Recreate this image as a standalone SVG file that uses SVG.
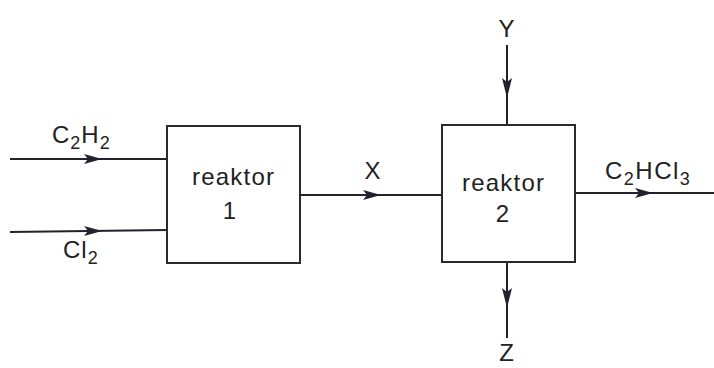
<svg xmlns="http://www.w3.org/2000/svg" width="714" height="368" viewBox="0 0 714 368">
<defs>
<style>
.box{fill:#fff;stroke:#2a2a33;stroke-width:2}
.ln{stroke:#22222e;stroke-width:2;fill:none}
.ah{fill:#22222e}
text{font-family:"Liberation Sans",Arial,sans-serif;font-size:24px;fill:#222;letter-spacing:1px}
.sub{font-size:18px}
</style>
</defs>
<rect width="714" height="368" fill="#fff"/>
<g id="connectors">
<line class="ln" x1="10" y1="159" x2="167" y2="159"/>
<polygon class="ah" points="102,159 84,154 88,159 84,164"/>
<line class="ln" x1="10" y1="232" x2="167" y2="230"/>
<polygon class="ah" points="102,231 84,226 88,231 84,236"/>
<line class="ln" x1="300" y1="195" x2="442" y2="195"/>
<polygon class="ah" points="381,195 363,190 367,195 363,200"/>
<line class="ln" x1="507" y1="45" x2="507" y2="125"/>
<polygon class="ah" points="507,98 502,78 507,82 512,78"/>
<line class="ln" x1="507" y1="262" x2="507" y2="338"/>
<polygon class="ah" points="507,308 502,288 507,292 512,288"/>
<line class="ln" x1="575" y1="193" x2="714" y2="193"/>
<polygon class="ah" points="653,193 635,188 639,193 635,198"/>
</g>
<g id="reaktor1">
<rect class="box" x="167" y="126" width="133" height="137"/>
<text x="192" y="185" textLength="83" lengthAdjust="spacing">reaktor</text>
<text x="230" y="219" text-anchor="middle">1</text>
</g>
<g id="reaktor2">
<rect class="box" x="442" y="125" width="133" height="137"/>
<text x="462" y="191" textLength="83" lengthAdjust="spacing">reaktor</text>
<text x="503" y="222" text-anchor="middle">2</text>
</g>
<g id="labels">
<text x="52" y="143">C<tspan class="sub" dy="6">2</tspan><tspan dy="-6">H</tspan><tspan class="sub" dy="6">2</tspan></text>
<text x="63" y="258">Cl<tspan class="sub" dy="6">2</tspan></text>
<text x="373" y="179" text-anchor="middle">X</text>
<text x="507" y="37" text-anchor="middle">Y</text>
<text x="507" y="361" text-anchor="middle">Z</text>
<text x="605" y="179" style="letter-spacing:1.5px">C<tspan class="sub" dy="6">2</tspan><tspan dy="-6">HCl</tspan><tspan class="sub" dy="6">3</tspan></text>
</g>
</svg>
